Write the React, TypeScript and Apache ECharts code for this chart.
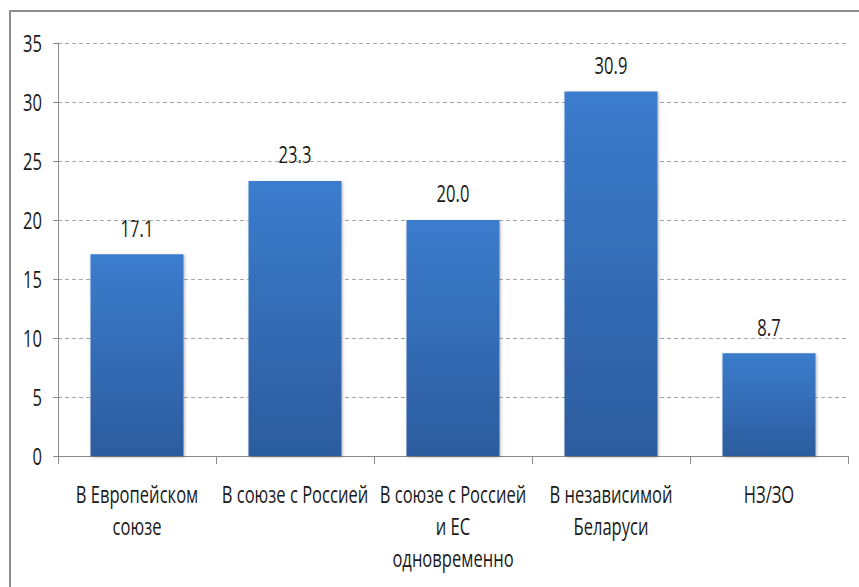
import React, { useEffect, useRef } from "react";
import * as echarts from "echarts";

const categories = [
  "В Европейском\nсоюзе",
  "В союзе с Россией",
  "В союзе с Россией\nи ЕС\nодновременно",
  "В независимой\nБеларуси",
  "НЗ/ЗО",
];
const values = [17.1, 23.3, 20.0, 30.9, 8.7];
const yTickValues = [0, 5, 10, 15, 20, 25, 30, 35];
const yTicks = { min: 0, max: 35, interval: 5 };

const FONT = "'Open Sans', 'Noto Sans', sans-serif";
const FONT_SIZE = 24;
const SX = 0.69;
const TEXT_COLOR = "#1a1a1a";

export default function App() {
  const ref = useRef<HTMLDivElement>(null);
  useEffect(() => {
    const chart = echarts.init(ref.current!, null, { renderer: "svg" });
    const border = {
      type: "rect",
      id: "border",
      shape: { x: 10, y: 11, width: 900, height: 620 },
      style: { fill: "none", stroke: "#8c8c8c", lineWidth: 2 },
      silent: true,
    };
    chart.setOption({
      animation: false,
      backgroundColor: "#ffffff",
      textStyle: { fontFamily: FONT },
      graphic: [border],
      grid: { left: 58, right: 11, top: 43, bottom: 131, containLabel: false },
      xAxis: {
        type: "category",
        data: categories,
        axisLine: { lineStyle: { color: "#8c8c8c", width: 1 } },
        axisTick: { show: true, alignWithLabel: false, length: 8, lineStyle: { color: "#8c8c8c" } },
        axisLabel: { show: false },
      },
      yAxis: {
        type: "value",
        min: yTicks.min,
        max: yTicks.max,
        interval: yTicks.interval,
        axisLine: { show: true, lineStyle: { color: "#8c8c8c", width: 1 } },
        axisTick: { show: true, length: 5, lineStyle: { color: "#8c8c8c" } },
        splitLine: { lineStyle: { type: [4, 3], color: "#a6a6a6", width: 1 } },
        axisLabel: { show: false },
      },
      series: [
        {
          type: "bar",
          data: values,
          barWidth: 93,
          itemStyle: {
            color: new echarts.graphic.LinearGradient(0, 0, 0, 1, [
              { offset: 0, color: "#3b7ccd" },
              { offset: 1, color: "#2c5c9e" },
            ]),
            shadowBlur: 3,
            shadowColor: "rgba(0,0,0,0.3)",
            shadowOffsetX: 1,
            shadowOffsetY: 1,
          },
          label: { show: false },
        },
      ],
    });

    const txt = (
      text: string,
      x: number,
      y: number,
      align: string,
      vAlign: string,
      lineHeight?: number
    ) => ({
      type: "text",
      x,
      y,
      scaleX: SX,
      silent: true,
      style: {
        text,
        fill: TEXT_COLOR,
        fontSize: FONT_SIZE,
        fontFamily: FONT,
        align,
        textAlign: align,
        verticalAlign: vAlign,
        textVerticalAlign: vAlign,
        lineHeight,
      },
    });

    const y0 = chart.convertToPixel({ yAxisIndex: 0 }, 0) as number;
    const xAxisX = chart.convertToPixel({ xAxisIndex: 0 }, 0) as number;
    const gridLeft = xAxisX - (chart.convertToPixel({ xAxisIndex: 0 }, 1) as number - xAxisX) / 2;

    const texts: any[] = [];
    categories.forEach((c, i) => {
      const x = chart.convertToPixel({ xAxisIndex: 0 }, i) as number;
      texts.push(txt(c, x, y0 + 22, "center", "top", 32));
      const yv = chart.convertToPixel({ yAxisIndex: 0 }, values[i]) as number;
      texts.push(txt(values[i].toFixed(1), x, yv - 27, "center", "middle"));
    });
    yTickValues.forEach((v) => {
      const y = chart.convertToPixel({ yAxisIndex: 0 }, v) as number;
      texts.push(txt(String(v), gridLeft - 16, y, "right", "middle"));
    });

    chart.setOption({ graphic: [border, ...texts] });
    return () => chart.dispose();
  }, []);
  return (
    <div
      ref={ref}
      style={{ position: "fixed", left: 0, top: 0, width: 859, height: 587 }}
    />
  );
}
